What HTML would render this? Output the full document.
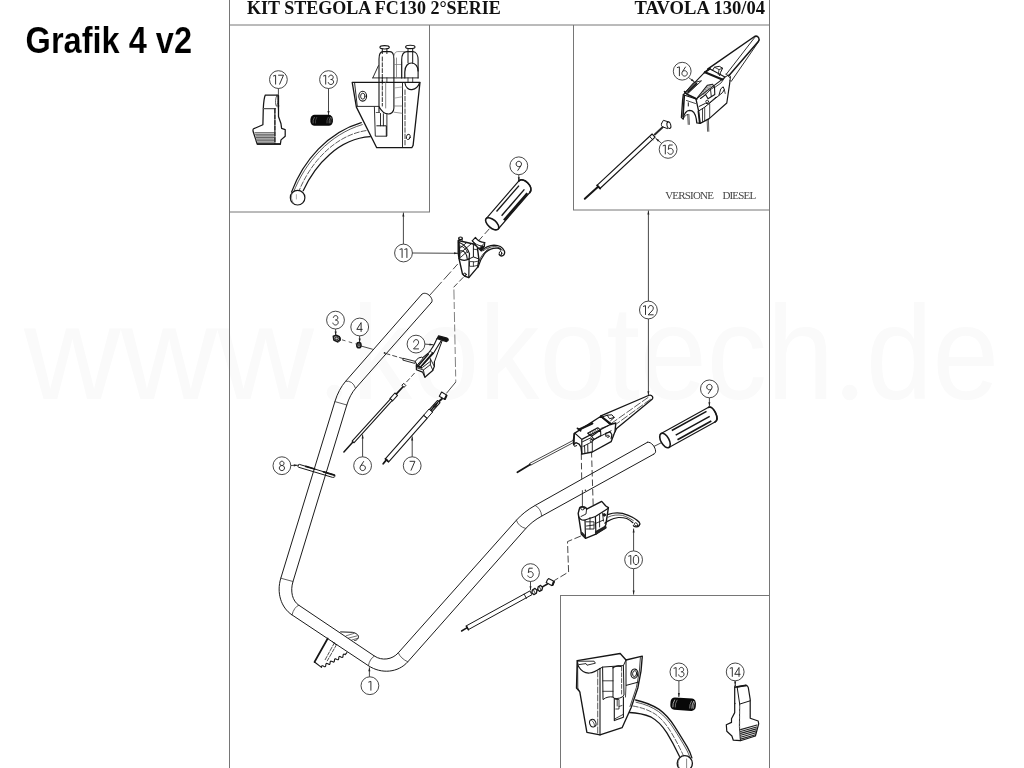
<!DOCTYPE html>
<html><head><meta charset="utf-8"><title>Grafik 4 v2</title>
<style>
html,body{margin:0;padding:0;background:#fff;}
body{width:1024px;height:768px;overflow:hidden;font-family:"Liberation Sans",sans-serif;}
svg{display:block;filter:grayscale(1);}
</style></head><body>
<svg width="1024" height="768" viewBox="0 0 1024 768">
<rect width="1024" height="768" fill="#fff"/>
<g font-family="Liberation Sans, sans-serif" font-size="133" fill="#fafafa"><text x="24" y="399" textLength="290" lengthAdjust="spacingAndGlyphs">www</text><circle cx="334.3" cy="392.5" r="7.7"/><text x="352" y="399" textLength="482" lengthAdjust="spacingAndGlyphs">kokotech</text><circle cx="849.7" cy="392.5" r="7.7"/><text x="866" y="399" textLength="133" lengthAdjust="spacingAndGlyphs">de</text></g>
<g fill="none" stroke="#767676" stroke-width="1">
<path d="M229.5 0V768 M769.5 0V768 M429.5 25V212 M573.5 25V210 M560.5 595.5V768"/>
<path d="M229 25H770 M229 212H430 M573 210H770 M560 595.5H770"/>
</g>
<text x="247" y="14.2" font-family="Liberation Serif, serif" font-weight="bold" font-size="18" fill="#111" textLength="253.7" lengthAdjust="spacingAndGlyphs">KIT STEGOLA FC130 2°SERIE</text>
<text x="634.5" y="14.2" font-family="Liberation Serif, serif" font-weight="bold" font-size="18" fill="#111" textLength="130.5" lengthAdjust="spacingAndGlyphs">TAVOLA 130/04</text>
<text x="25.6" y="52.6" font-family="Liberation Sans, sans-serif" font-weight="bold" font-size="36.4" fill="#000" stroke="#fff" stroke-width="0.12" textLength="166.5" lengthAdjust="spacingAndGlyphs">Grafik 4 v2</text>
<g font-family="Liberation Serif, serif" font-size="11" fill="#444"><text x="665.2" y="199.2" textLength="48.8" lengthAdjust="spacing">VERSIONE</text><text x="722.4" y="199.2" textLength="33.8" lengthAdjust="spacing">DIESEL</text></g>
<g id="balloons">
<circle cx="278.4" cy="79.6" r="8.9" fill="#fff" stroke="#333" stroke-width="0.9"/>
<circle cx="328.5" cy="79.6" r="8.9" fill="#fff" stroke="#333" stroke-width="0.9"/>
<circle cx="682.2" cy="71.2" r="8.9" fill="#fff" stroke="#333" stroke-width="0.9"/>
<circle cx="668.1" cy="149.4" r="8.9" fill="#fff" stroke="#333" stroke-width="0.9"/>
<circle cx="518.8" cy="165.8" r="8.9" fill="#fff" stroke="#333" stroke-width="0.9"/>
<circle cx="403.5" cy="253" r="8.9" fill="#fff" stroke="#333" stroke-width="0.9"/>
<circle cx="335.5" cy="320.1" r="8.9" fill="#fff" stroke="#333" stroke-width="0.9"/>
<circle cx="359.7" cy="327" r="8.9" fill="#fff" stroke="#333" stroke-width="0.9"/>
<circle cx="416" cy="344.1" r="8.9" fill="#fff" stroke="#333" stroke-width="0.9"/>
<circle cx="648.4" cy="310" r="8.9" fill="#fff" stroke="#333" stroke-width="0.9"/>
<circle cx="709.4" cy="388.9" r="8.9" fill="#fff" stroke="#333" stroke-width="0.9"/>
<circle cx="281.9" cy="465.7" r="8.9" fill="#fff" stroke="#333" stroke-width="0.9"/>
<circle cx="362.6" cy="465.7" r="8.9" fill="#fff" stroke="#333" stroke-width="0.9"/>
<circle cx="412.2" cy="465.7" r="8.9" fill="#fff" stroke="#333" stroke-width="0.9"/>
<circle cx="530.5" cy="572.6" r="8.9" fill="#fff" stroke="#333" stroke-width="0.9"/>
<circle cx="633.6" cy="559.8" r="8.9" fill="#fff" stroke="#333" stroke-width="0.9"/>
<circle cx="369.9" cy="685.7" r="8.9" fill="#fff" stroke="#333" stroke-width="0.9"/>
<circle cx="678.9" cy="671.9" r="8.9" fill="#fff" stroke="#333" stroke-width="0.9"/>
<circle cx="735.2" cy="671.9" r="8.9" fill="#fff" stroke="#333" stroke-width="0.9"/>
<g fill="none" stroke="#262626" stroke-width="0.95" stroke-linejoin="round">
<path transform="translate(273.1 75.1)" d="M0 1.0L2.5 0.15V9.4"/><path transform="translate(277.9 75.1)" d="M0.3 0.1H5.6L1.6 9.4"/>
<path transform="translate(323.2 75.1)" d="M0 1.0L2.5 0.15V9.4"/><path transform="translate(328 75.1)" d="M0.7 2.2C0.9 0.9 1.8 0 3 0C4.4 0 5.2 1 5.2 2.2C5.2 3.5 4.4 4.4 3.1 4.4H2.5M3.1 4.4C4.6 4.4 5.6 5.4 5.6 6.8C5.6 8.3 4.4 9.4 2.9 9.4C1.5 9.4 0.5 8.5 0.2 7.1"/>
<path transform="translate(676.9 66.7)" d="M0 1.0L2.5 0.15V9.4"/><path transform="translate(681.6 66.7)" d="M4.1 0L0.9 4.9C0.5 5.5 0.3 6.1 0.3 6.7C0.3 8.2 1.5 9.4 3 9.4C4.5 9.4 5.7 8.2 5.7 6.7C5.7 5.2 4.5 4 3 4C2.2 4 1.4 4.3 0.9 4.9"/>
<path transform="translate(662.8 144.9)" d="M0 1.0L2.5 0.15V9.4"/><path transform="translate(667.5 144.9)" d="M5.2 0.1H1.5L0.8 4.5C1.4 3.9 2.2 3.5 3.1 3.5C4.6 3.5 5.7 4.8 5.7 6.4C5.7 8.1 4.5 9.4 2.9 9.4C1.6 9.4 0.6 8.6 0.2 7.4"/>
<path transform="translate(515.8 161.3)" d="M1.8 9.4L5.1 4.5C5.5 3.9 5.7 3.3 5.7 2.7C5.7 1.2 4.5 0 3 0C1.5 0 0.3 1.2 0.3 2.7C0.3 4.2 1.5 5.4 3 5.4C3.8 5.4 4.6 5.1 5.1 4.5"/>
<path transform="translate(399.6 248.5)" d="M0 1.0L2.5 0.15V9.4"/><path transform="translate(404.4 248.5)" d="M0 1.0L2.5 0.15V9.4"/>
<path transform="translate(332.6 315.6)" d="M0.7 2.2C0.9 0.9 1.8 0 3 0C4.4 0 5.2 1 5.2 2.2C5.2 3.5 4.4 4.4 3.1 4.4H2.5M3.1 4.4C4.6 4.4 5.6 5.4 5.6 6.8C5.6 8.3 4.4 9.4 2.9 9.4C1.5 9.4 0.5 8.5 0.2 7.1"/>
<path transform="translate(356.6 322.5)" d="M4.5 9.4V0.1L0.2 6.9H6"/>
<path transform="translate(413.1 339.6)" d="M0.5 2.8C0.5 1.2 1.6 0 3 0C4.5 0 5.5 1.1 5.5 2.6C5.5 3.7 5 4.6 4.1 5.5L0.4 9.3H5.8"/>
<path transform="translate(643 305.5)" d="M0 1.0L2.5 0.15V9.4"/><path transform="translate(647.8 305.5)" d="M0.5 2.8C0.5 1.2 1.6 0 3 0C4.5 0 5.5 1.1 5.5 2.6C5.5 3.7 5 4.6 4.1 5.5L0.4 9.3H5.8"/>
<path transform="translate(706.4 384.4)" d="M1.8 9.4L5.1 4.5C5.5 3.9 5.7 3.3 5.7 2.7C5.7 1.2 4.5 0 3 0C1.5 0 0.3 1.2 0.3 2.7C0.3 4.2 1.5 5.4 3 5.4C3.8 5.4 4.6 5.1 5.1 4.5"/>
<path transform="translate(278.9 461.2)" d="M3 4.3C1.8 4.3 0.9 3.4 0.9 2.2C0.9 1 1.8 0 3 0C4.2 0 5.1 1 5.1 2.2C5.1 3.4 4.2 4.3 3 4.3C1.5 4.3 0.4 5.4 0.4 6.8C0.4 8.3 1.5 9.4 3 9.4C4.5 9.4 5.6 8.3 5.6 6.8C5.6 5.4 4.5 4.3 3 4.3Z"/>
<path transform="translate(359.7 461.2)" d="M4.1 0L0.9 4.9C0.5 5.5 0.3 6.1 0.3 6.7C0.3 8.2 1.5 9.4 3 9.4C4.5 9.4 5.7 8.2 5.7 6.7C5.7 5.2 4.5 4 3 4C2.2 4 1.4 4.3 0.9 4.9"/>
<path transform="translate(409.3 461.2)" d="M0.3 0.1H5.6L1.6 9.4"/>
<path transform="translate(527.5 568.1)" d="M5.2 0.1H1.5L0.8 4.5C1.4 3.9 2.2 3.5 3.1 3.5C4.6 3.5 5.7 4.8 5.7 6.4C5.7 8.1 4.5 9.4 2.9 9.4C1.6 9.4 0.6 8.6 0.2 7.4"/>
<path transform="translate(628.3 555.3)" d="M0 1.0L2.5 0.15V9.4"/><path transform="translate(633.1 555.3)" d="M2.9 0C1.2 0 0.2 1.9 0.2 4.7C0.2 7.5 1.2 9.4 2.9 9.4C4.6 9.4 5.6 7.5 5.6 4.7C5.6 1.9 4.6 0 2.9 0Z"/>
<path transform="translate(368.4 681.2)" d="M0 1.0L2.5 0.15V9.4"/>
<path transform="translate(673.6 667.4)" d="M0 1.0L2.5 0.15V9.4"/><path transform="translate(678.4 667.4)" d="M0.7 2.2C0.9 0.9 1.8 0 3 0C4.4 0 5.2 1 5.2 2.2C5.2 3.5 4.4 4.4 3.1 4.4H2.5M3.1 4.4C4.6 4.4 5.6 5.4 5.6 6.8C5.6 8.3 4.4 9.4 2.9 9.4C1.5 9.4 0.5 8.5 0.2 7.1"/>
<path transform="translate(729.8 667.4)" d="M0 1.0L2.5 0.15V9.4"/><path transform="translate(734.5 667.4)" d="M4.5 9.4V0.1L0.2 6.9H6"/>
</g></g>
<g id="leaders">
<path d="M278.4 88.5L278.4 109.5" stroke="#333" stroke-width="0.9" fill="none"/>
<path d="M278.4 109.5L277.3 105.5L279.4 105.5Z" fill="#222"/>
<path d="M328.5 88.5L328.5 115" stroke="#333" stroke-width="0.9" fill="none"/>
<path d="M328.5 115L327.4 111L329.6 111Z" fill="#222"/>
<path d="M688.5 77.5L694.6 82" stroke="#333" stroke-width="0.9" fill="none"/>
<path d="M694.6 82L690.8 80.5L692 78.8Z" fill="#222"/>
<path d="M661.6 143.3L655.6 138.3" stroke="#333" stroke-width="0.9" fill="none"/>
<path d="M655.6 138.3L659.3 140.1L658 141.7Z" fill="#222"/>
<path d="M518.8 174.7L518.8 181.2" stroke="#333" stroke-width="0.9" fill="none"/>
<path d="M518.8 181.2L517.8 177.2L519.8 177.2Z" fill="#222"/>
<path d="M403.4 244.1L403.4 212.6" stroke="#333" stroke-width="0.9" fill="none"/>
<path d="M403.4 212.6L404.4 216.6L402.3 216.6Z" fill="#222"/>
<path d="M412.4 253L458 253.3" stroke="#333" stroke-width="0.9" fill="none"/>
<path d="M458 253.3L454 254.3L454 252.2Z" fill="#222"/>
<path d="M335.6 329L335.6 335.4" stroke="#333" stroke-width="0.9" fill="none"/>
<path d="M335.6 335.4L334.6 331.4L336.7 331.4Z" fill="#222"/>
<path d="M359.6 335.9L359.6 342.6" stroke="#333" stroke-width="0.9" fill="none"/>
<path d="M359.6 342.6L358.6 338.6L360.7 338.6Z" fill="#222"/>
<path d="M424.9 344.1L433.5 344.8" stroke="#333" stroke-width="0.9" fill="none"/>
<path d="M433.5 344.8L429.4 345.5L429.6 343.4Z" fill="#222"/>
<path d="M648.4 301.1L648.4 210.6" stroke="#333" stroke-width="0.9" fill="none"/>
<path d="M648.4 210.6L649.4 214.6L647.4 214.6Z" fill="#222"/>
<path d="M648.4 318.9L648.4 395.3" stroke="#333" stroke-width="0.9" fill="none"/>
<path d="M648.4 395.3L647.4 391.3L649.4 391.3Z" fill="#222"/>
<path d="M709.4 397.8L709.4 406.3" stroke="#333" stroke-width="0.9" fill="none"/>
<path d="M709.4 406.3L708.4 402.3L710.4 402.3Z" fill="#222"/>
<path d="M290.8 465.5L297.8 465.2" stroke="#333" stroke-width="0.9" fill="none"/>
<path d="M297.8 465.2L293.8 466.4L293.8 464.3Z" fill="#222"/>
<path d="M362.6 456.8L362.6 434.6" stroke="#333" stroke-width="0.9" fill="none"/>
<path d="M362.6 434.6L363.7 438.6L361.6 438.6Z" fill="#222"/>
<path d="M412.2 456.8L412.2 436.4" stroke="#333" stroke-width="0.9" fill="none"/>
<path d="M412.2 436.4L413.2 440.4L411.1 440.4Z" fill="#222"/>
<path d="M530.5 581.5L530.5 590.3" stroke="#333" stroke-width="0.9" fill="none"/>
<path d="M530.5 590.3L529.5 586.3L531.5 586.3Z" fill="#222"/>
<path d="M633.6 550.9L633.6 528.6" stroke="#333" stroke-width="0.9" fill="none"/>
<path d="M633.6 528.6L634.6 532.6L632.6 532.6Z" fill="#222"/>
<path d="M633.6 568.7L633.6 594.6" stroke="#333" stroke-width="0.9" fill="none"/>
<path d="M633.6 594.6L632.6 590.6L634.6 590.6Z" fill="#222"/>
<path d="M369.4 676.8L369.4 667.3" stroke="#333" stroke-width="0.9" fill="none"/>
<path d="M369.4 667.3L370.4 671.3L368.3 671.3Z" fill="#222"/>
<path d="M678.9 680.8L678.9 697" stroke="#333" stroke-width="0.9" fill="none"/>
<path d="M678.9 697L677.9 693L679.9 693Z" fill="#222"/>
<path d="M735.2 680.8L735.2 685.5" stroke="#333" stroke-width="0.9" fill="none"/>
<path d="M735.2 685.5L734.2 681.5L736.2 681.5Z" fill="#222"/>
</g>
<g id="handlebar" fill="none" stroke="#161616" stroke-width="0.98" stroke-linecap="round" stroke-linejoin="round">
<path d="M421.9 294.2 L345.6 381.3 C341.1 386.5 337.4 393.4 334.9 401.6 L280.8 578.2 C276.4 592.6 280.9 607.5 292 614.9 L368.4 665.7 C381.4 674.3 398.2 672.7 407.8 661.8 L525.8 528.5 C529.9 523.8 535.3 519.6 541.7 516.1 L653.5 454.3"/>
<path d="M431.5 302.4 L355.6 388.3 C351.9 392.5 348.9 398.2 346.8 405 L293 581.5 C290 591.3 292.4 600.9 298.8 605.2 L374.4 656 C381.9 661.1 392.2 659.7 398.3 652.8 L516.4 520.2 C521.4 514.6 527.7 509.6 535.2 505.4 L647.6 442.2"/>
<path d="M421.9 294.2 C423.2 292.5 427.6 293 429.9 296 C431.8 298.3 433 300.8 431.5 302.4"/>
<path d="M647.6 442.2 C651.5 441.5 655.5 447.5 655.6 451.2 C655.6 452.8 654.8 453.8 653.5 454.3"/>
<g stroke-width="0.75" stroke="#2a2a2a">
<path d="M345.6 381.3 Q352.6 380 355.6 388.3"/>
<path d="M334.9 401.6 L346.8 405"/>
<path d="M280.8 578.2 L293 581.5"/>
<path d="M298.8 605.2 Q294 607 292 614.9"/>
<path d="M374.4 656 Q369.5 659 368.4 665.7"/>
<path d="M398.3 652.8 Q400.5 658.5 407.8 661.8"/>
<path d="M516.4 520.2 Q518.3 526.6 525.8 528.5"/>
<path d="M535.2 505.4 Q541.2 508.6 541.7 516.1"/>
</g></g>
<g id="p17" fill="none" stroke="#161616" stroke-width="1.1" stroke-linejoin="round" stroke-linecap="round">
<path d="M265.3 95.1H277.2 M265.3 95.1 C264 98 263.6 103 263.3 108.3 L262.9 124.8 L253.6 128.8 C252.9 129.3 252.9 130.6 253.2 131.8 L257.2 144 H280.4 L281 139.9 L285.2 136.3 V129.6 L281.6 128.4 L281 123.8 L278.5 116.5 V95.5" stroke-width="1.25"/>
<path d="M263.3 108.6H275.6" stroke="#555"/>
<path d="M277.2 95.1 C275.2 97 275 104.5 276.5 106.3 C278 104.5 278.3 97 277.2 95.1Z" stroke-width="0.7"/>
<path d="M274.9 109V143.5" stroke="#1a1a1a" stroke-width="1.5" stroke-dasharray="4.2 1.5"/>
<path d="M257.5 144.1H280.3" stroke-width="1.5"/>
</g>
<g stroke="#333" stroke-width="0.8" fill="none">
<path d="M254.6 132.7H274"/>
<path d="M255.1 134.3H274"/>
<path d="M255.6 135.9H274"/>
<path d="M256 137.5H274"/>
<path d="M256.5 139.1H274"/>
<path d="M257 140.7H274"/>
<path d="M257.4 142.2H274"/>
</g>
<rect x="255.5" y="133.6" width="17.8" height="8" fill="#777" opacity="0.35"/>
<rect x="310.4" y="114.8" width="22.5" height="11" rx="4.2" ry="4.6" fill="#080808"/>
<path d="M314.5 117Q312.5 120.3 313.1 123.4" stroke="#777" stroke-width="0.8" fill="none"/>
<path d="M316.9 117Q314.9 120.3 315.5 123.4" stroke="#777" stroke-width="0.5" fill="none"/>
<path d="M328.4 117Q326.4 120.3 327 123.4" stroke="#777" stroke-width="0.6" fill="none"/>
<path d="M330.6 117Q328.6 120.3 329.2 123.4" stroke="#777" stroke-width="0.9" fill="none"/>
<path d="M332.2 117Q330.2 120.3 330.8 123.4" stroke="#777" stroke-width="0.6" fill="none"/>
<g id="h1" fill="none" stroke="#161616" stroke-width="1.0" stroke-linejoin="round" stroke-linecap="round">
<path d="M352.2 82.3H420 L413.1 145.4 L411.8 147.7 H376.7 L356.4 107.1 Z" stroke-width="1.3"/>
<path d="M354.6 83 L357.3 106.4 H379 " stroke-width="0.9"/>
<path d="M357.3 106.4 L356.4 107.1"/>
<ellipse cx="362.7" cy="96.2" rx="3.9" ry="4.9" stroke-width="1.1"/><ellipse cx="362.8" cy="96.2" rx="2.2" ry="3" stroke-width="0.9"/>
<path d="M379 112 V59 C379 54 381 51.6 383 51.6 H390 C392.5 51.6 393.9 54 393.9 59 V108 C393.9 112 391 114 388.5 114 C385 114 382 112.5 379 106.5" stroke-width="1.1"/>
<path d="M382.3 57V106" stroke-dasharray="4 1.8" stroke-width="0.9"/>
<path d="M385.7 82.3V108" stroke-width="0.8" stroke="#666"/>
<ellipse cx="384.6" cy="47.3" rx="4.7" ry="1.7" stroke-width="1.1"/>
<path d="M382.3 48.8V53.5 M386.9 48.8V53.5" stroke-width="1.0"/>
<path d="M382.3 77.9V82.3 M386.9 77.9V82.3" stroke-width="0.8"/>
<path d="M372.8 77.9 L378.4 65.7 M372.8 77.9 H418.1" stroke-width="0.9"/>
<path d="M393.9 56 C394.5 52.5 396 51.6 398 51.6 H404 M396.5 58 V77.9 M401.7 62V77.9" stroke="#777" stroke-width="0.8"/>
<path d="M393.9 64.5H401.7" stroke="#777" stroke-width="0.7"/>
<path d="M401.7 77.9 V60 C401.7 54.5 404 51.6 407 51.6 H413 C416 51.6 418.1 55 418.1 60 V77.9" stroke-width="1.1"/>
<path d="M404.8 77.9 V72 C404.8 66 408 63 411.5 63 C415.5 63 418.1 66.5 418.1 71" stroke-width="1.2"/>
<ellipse cx="410.3" cy="46.9" rx="4.7" ry="1.7" stroke-width="1.1"/>
<path d="M408 48.4V62.8 M412.7 48.4V63.2" stroke-width="1.0"/>
<path d="M408 77.9V82.3 M412.7 77.9V82.3" stroke-width="0.8"/>
<path d="M404.8 82.5 C405.5 88 409 90 412 89.6 C416 89 418.5 86 419.7 82.5" stroke-width="1.1"/>
<path d="M402.5 82.5V147.5" stroke-width="0.9"/>
<path d="M405 90V146" stroke-dasharray="4.5 1.8" stroke-width="0.8"/>
<ellipse cx="408.3" cy="136.9" rx="1.9" ry="2.7" stroke-width="0.9" transform="rotate(15 408.3 136.9)"/>
<path d="M374.4 107.1 L375.3 136.2 H386.9 V113.8" stroke-width="0.9"/>
<path d="M376.8 125.8 H386.3 V136" stroke-width="1.0"/>
<path d="M380.5 113.5V125.8 M383.4 113.8V125.8" stroke-width="0.9"/>
<path d="M376.2 112.5H379.5" stroke-width="0.7"/>
<path d="M393.9 112.2 L402.2 113.3 M393.9 106 H402.2" stroke="#666" stroke-width="0.7"/>
<path d="M393.9 88 L402.2 87 M393.9 98.2 L402.2 96.8" stroke="#888" stroke-width="0.7"/>
<path d="M361.3 122.6 C328 132.3 303.3 160.5 291.5 192.1" stroke-width="1.25"/>
<path d="M362.3 124.6 C329.6 134.2 305 162 293.2 193" stroke-width="0.7"/>
<path d="M370.2 136.7 C339.2 138.6 315.4 164.1 303.2 190.7" stroke-width="1.25"/>
<path d="M366 130.6 C334.5 135.5 310 163 298.6 192" stroke-dasharray="5 2" stroke-width="0.7"/>
<circle cx="297.6" cy="197.7" r="7.3" fill="#fff" stroke-width="1.2"/>
<path d="M292 193.5 C291 196.5 291.3 200.5 293.5 203.2" stroke-width="0.7" stroke="#666"/>
<path d="M296.4 194.6V199" stroke-width="0.6" stroke="#777"/>
</g>
<g id="p16" fill="none" stroke="#161616" stroke-width="1.0" stroke-linejoin="round" stroke-linecap="round">
<path d="M707.6 69.2 L753.8 37 C755.5 35.8 757.6 36.2 758.6 37.6 C759.5 38.9 759.2 40.2 758.3 41.6 L729 75.6" stroke-width="1.5"/>
<path d="M754.6 37.6 L726 74.6" stroke-width="0.9"/>
<path d="M758.2 42.2 L731.2 81.4" stroke-width="0.9"/>
<path d="M724.9 77.1 L728.3 75.2 C729.4 74.9 730.2 75.6 730.4 77 L730 80.5" stroke-width="1.0"/>
<path d="M726.3 73.8 L729.6 77.6" stroke-width="0.8"/>
<path d="M683.3 94.7 L685.6 92.2 L705.3 71.7 L709.7 68.8 L724.9 77.1 L721.9 79.6 L696 99.1 Z" stroke-width="1.1"/>
<path d="M705 72.3 L722.3 79.4" stroke-width="2.2"/>
<path d="M704.6 72.6 L709.9 68.8" stroke-width="1.8"/>
<path d="M712.3 70.6 L714.5 67.2 L719.3 66.3 L722.6 68.2 L720.6 72.3 L719.6 75.6" stroke-width="1.0"/>
<path d="M714.5 67.2 L719 69.6 L722.6 68.2 M719 69.6 L718.3 74.5" stroke-width="0.8"/>
<path d="M694 82.5 L701.5 80.8 L687 94.3 L685 93.2 Z" stroke-width="0.9"/>
<path d="M696.5 83.5 L688 92" stroke-width="1.8"/>
<path d="M684.5 91.5 L687.5 94.5 L697 99" stroke-width="1.6"/>
<path d="M697.5 97.5 L707.5 85.2 L712.5 84.3 L714.5 87 L714.8 94.5 L708 98.8 L705.6 94.6 L700.5 98.5" stroke-width="1.1"/>
<path d="M705.6 94.6 L710.5 89.5 L714.5 87 M710.5 89.5 L711.3 96.5" stroke-width="0.9"/>
<path d="M700.2 95.3 L705.3 93.6" stroke-width="0.6" stroke="#444"/>
<path d="M701.7 93.5 L706.8 91.8" stroke-width="0.6" stroke="#444"/>
<path d="M703.2 91.6 L708.3 89.9" stroke-width="0.6" stroke="#444"/>
<path d="M704.7 89.8 L709.8 88" stroke-width="0.6" stroke="#444"/>
<path d="M706.2 87.9 L711.3 86.2" stroke-width="0.6" stroke="#444"/>
<path d="M707.7 86 L712.8 84.3" stroke-width="0.6" stroke="#444"/>
<path d="M683.3 94.7 L682.6 100 L681.4 117.6 L683.2 119 C684 113.5 686.3 110.5 689.6 110.3 C693 110.3 695.3 113.3 696.3 119 L696.8 122.8 L700.2 123.4 L698.6 111 L696 99.1" stroke-width="1.3"/>
<path d="M684.3 95.6 L683 116.5" stroke-width="1.6"/>
<path d="M686.5 100.5 L695.5 103.5" stroke-width="0.8"/>
<path d="M688.3 102.8 V106" stroke-width="1.0"/>
<path d="M683.2 119 C684.5 116 686 114.6 688 114.4" stroke-width="0.8"/>
<path d="M730 80.5 L729.6 84 L726.8 103 L709.2 118.6 L700.2 123.4" stroke-width="1.2"/>
<path d="M698.6 111 L704.5 107.3 L722.6 92.5 L724.3 89.5 L723.2 86.8 L720.8 88.8 L719 95" stroke-width="1.0"/>
<path d="M724.3 89.5 L725.2 93.5" stroke-width="0.8"/>
<path d="M699.2 106.4 L705.5 103.3 L708.5 103.8 L716 97" stroke-width="1.0"/>
<circle cx="707.2" cy="101.6" r="1.4" stroke-width="0.9"/>
<path d="M702.5 108.6 V121.5 M704.7 107.5 V120.5 M709.7 104 V117.6" stroke-width="0.8"/>
<path d="M698.3 111.5 L699.6 123" stroke-width="1.5"/>
<path d="M714.8 87.4 L721 83 L724.5 78" stroke-width="0.8"/>
<path d="M687.7 114.8 L688.2 124.4 M688.9 114.5 L689.4 124.4" stroke-width="0.7"/>
<path d="M707.1 119.8 L707.6 131.3 M708.4 119.2 L708.8 131.3" stroke-width="0.7"/>
</g>
<g id="p15" fill="none" stroke="#161616" stroke-linecap="round">
<path d="M584.8 198.8 L597.5 187.3" stroke-width="2.0"/>
<path d="M600 188.5L655.1 137.2L652.1 134L597 185.3Z" fill="#fff" stroke="#161616" stroke-width="1.15" stroke-linejoin="round"/>
<path d="M649.4 136.3 L652.9 139.9" stroke-width="0.9"/>
<path d="M597.2 185.4 L600.2 188.6" stroke-width="1.8"/>
<path d="M654.8 134.4 L662.6 127.2" stroke-width="2.0" stroke="#2a2a2a"/>
<path d="M661.6 123.4 L663.4 120.3 L669.5 122.2 M661.6 123.4 C661 125 661.5 126.3 662.5 126.8 L667.5 128.6" stroke-width="1.0" fill="none"/>
<ellipse cx="668.9" cy="125.3" rx="1.9" ry="3.3" stroke-width="1.0" fill="#fff" transform="rotate(-14 668.9 125.3)"/>
</g>
<g id="axes" fill="none" stroke="#262626" stroke-width="0.85">
<path d="M429.7 295.3 L476.6 243" stroke-dasharray="18 3 11 3 7 3 9 3"/>
<path d="M478 241.4 L492.4 225.4" stroke-dasharray="7 3"/>
<path d="M463.4 277.2 L453.6 287.3" stroke-dasharray="6 2.5"/>
<path d="M453.9 289.5 L455.8 382" stroke-dasharray="10 2.5 7 3" stroke="#555" stroke-width="0.75"/>
<path d="M455.8 382 L446.4 393.4"/>
<path d="M342 339.8 L356.4 344.1" stroke-dasharray="3.6 3.4" stroke-width="0.75"/>
<path d="M361 346 L372.8 349.3"/>
<path d="M385.4 353.4 L405.6 359.3" stroke-dasharray="5 2.2"/>
<circle cx="384.6" cy="352.9" r="0.9" fill="#222" stroke="none"/>
<path d="M414.6 373 L404.9 383.8" stroke-dasharray="5 2.2"/>
<path d="M581.3 453.4 L581.7 479.4" stroke-dasharray="6.5 3"/>
<path d="M591.5 451 L593.5 516" stroke-dasharray="6.5 3"/>
<path d="M580.9 536 L567.5 541.6 L568.6 572 L554.2 580.6" stroke-dasharray="7 2.5"/>
<path d="M653.8 446.5 L666 440.4"/>
</g>
<g id="grips" stroke-linecap="round" stroke-linejoin="round">
<path d="M486.2 218.6L518.7 181.1C523.4 176.4 534.6 187 529.7 192.6L498.2 229" fill="#fff" stroke="#161616" stroke-width="1.15"/>
<path d="M518.7 181.1C523.4 176.4 534.6 187 529.7 192.6" fill="none" stroke="#161616" stroke-width="1.7"/>
<path d="M496.5 211.5L519 185.6" fill="none" stroke="#161616" stroke-width="1.4" stroke-linecap="butt"/>
<path d="M501.6 215.7L524.4 189.4" fill="none" stroke="#161616" stroke-width="1.4" stroke-linecap="butt"/>
<path d="M504 220.3L527.4 193.3" fill="none" stroke="#161616" stroke-width="2.5" stroke-linecap="butt"/>
<ellipse cx="492.2" cy="223.8" rx="4.1" ry="8" transform="rotate(-49.1 492.2 223.8)" fill="#fff" stroke="#161616" stroke-width="1.6"/>
<path d="M661.1 433.5L708.6 407.3C713.3 405.3 720.3 419.1 715 422L668.9 447.5" fill="#fff" stroke="#161616" stroke-width="1.15"/>
<path d="M708.6 407.3C713.3 405.3 720.3 419.1 715 422" fill="none" stroke="#161616" stroke-width="1.7"/>
<path d="M671.8 430.5L706.5 411.3" fill="none" stroke="#161616" stroke-width="1.5" stroke-linecap="butt"/>
<path d="M675.7 435.1L709.7 416.4" fill="none" stroke="#161616" stroke-width="1.5" stroke-linecap="butt"/>
<path d="M677.5 439.8L711.3 421.1" fill="none" stroke="#161616" stroke-width="1.7" stroke-linecap="butt"/>
<ellipse cx="665" cy="440.5" rx="4.1" ry="8" transform="rotate(-28.9 665 440.5)" fill="#fff" stroke="#161616" stroke-width="1.6"/>
</g>
<g id="p34" fill="none" stroke="#161616" stroke-linejoin="round">
<path d="M333.3 336.3 L336.3 335.3 L339.4 336.8 L339.8 339.8 L337 341.6 L333.8 340 Z" stroke-width="1.5" fill="#bbb"/>
<ellipse cx="336.6" cy="338.4" rx="1.6" ry="1.4" stroke-width="0.9"/>
<path d="M339.4 336.8 L340.6 338 L340.4 340.6 L337.6 342.4 L337 341.6" stroke-width="0.9"/>
<ellipse cx="358.9" cy="345.2" rx="2.1" ry="2.6" stroke-width="1.6" fill="#ccc"/>
<ellipse cx="359" cy="345.2" rx="0.7" ry="1" stroke-width="0.8"/>
</g>
<g id="p2" fill="none" stroke="#161616" stroke-linejoin="round" stroke-linecap="round">
<path d="M438.6 335.8 L447.2 338.2 C448.2 338.6 448.4 339.8 448 340.6 L446.6 341.6 L437.2 338.6 Z" fill="#111" stroke-width="1.2"/>
<path d="M437 338.5 C435.5 342 434 345 432.7 347.1 C431.5 349.2 430.2 351 428.8 352.6 L419.4 360.4 L416.3 364.3" stroke-width="1.1"/>
<path d="M441.3 340.5 L433.5 353.3 L422.6 365.1" stroke-width="1.1"/>
<path d="M441.9 341.4 L434.4 361.9" stroke-width="1.0"/>
<path d="M428.4 354.1 L418.3 365.8 M432.7 353 L421 366.6" stroke-width="1.5"/>
<path d="M430.6 351.6 L433.6 353.4" stroke-width="0.8"/>
<path d="M415.5 361 L418.4 358 L421.6 357.2 L423 358.4 L417.2 365 Z" stroke-width="1.0" fill="#fff"/>
<path d="M416.3 365 L416.4 369.8 L422.6 372.1 L424.9 377.2 L432.7 370.5 L434.3 366.6 L434.4 361.9" stroke-width="1.2"/>
<path d="M416.4 367.6 L423.4 370 L424.9 377.2 M423.4 370 L430.4 364.6 L430.4 358.8 M430.4 364.6 L432.8 370.2 M430.4 358.8 L434.3 366.4 M423 367 L429.6 362" stroke-width="0.9"/>
<path d="M416.8 366 L421.6 367.6" stroke-width="2.0"/>
<path d="M403.6 358.4 L415.4 361.4 L414.8 363.4 L403.2 360.2 Z" stroke-width="0.9" fill="#fff"/>
</g>
<g id="p6" fill="none" stroke="#161616" stroke-linecap="round">
<path d="M404 383.6 L405.8 385.5 L404 387.4 L402.2 385.5 Z" stroke-width="1.0" fill="#fff"/>
<path d="M402.8 387 L396 394.4" stroke-width="1.7"/>
<path d="M394.9 393L389.9 398.6L392.5 401L397.5 395.4Z" fill="#fff" stroke="#161616" stroke-width="1.05" stroke-linejoin="round"/>
<path d="M390.5 398.8L352.1 441.2L353.9 442.8L392.3 400.4Z" fill="#fff" stroke="#161616" stroke-width="1.05" stroke-linejoin="round"/>
<path d="M352.9 442 L343.9 451.9" stroke-width="1.5"/>
</g>
<g id="p7" fill="none" stroke="#161616" stroke-linecap="round" stroke-linejoin="round">
<path d="M441.6 392 L446.7 395.1 L444.8 399.4 L439.3 396.3 Z" stroke-width="1.1" fill="#fff"/>
<path d="M446.5 395.6 L444.9 399" stroke-width="2.0"/>
<path d="M442 398.7 L438.6 401.8" stroke-width="1.9"/>
<path d="M437.4 400.5L429.3 409.7L431.9 411.9L440 402.7Z" fill="#fff" stroke="#161616" stroke-width="1.1" stroke-linejoin="round"/>
<path d="M437.6 402.6 L431 410.2" stroke-width="1.6"/>
<ellipse cx="435" cy="405.6" rx="1.2" ry="2" transform="rotate(41 435 405.6)" stroke-width="0.8"/>
<path d="M428.8 409.3L423.6 415.3L427.2 418.3L432.4 412.3Z" fill="#fff" stroke="#161616" stroke-width="1.0" stroke-linejoin="round"/>
<path d="M423.7 415.3L385.3 458.9L388.7 461.9L427.1 418.3Z" fill="#fff" stroke="#161616" stroke-width="1.05" stroke-linejoin="round"/>
<path d="M386.6 459.6 L383.2 463.8" stroke-width="1.8"/>
<path d="M385.4 458.8 L388.4 461.6" stroke-width="1.6"/>
</g>
<g id="p8" fill="none" stroke="#161616" stroke-linecap="round" stroke-linejoin="round" transform="translate(0 1)">
<path d="M298.3 464.2 L299.4 463.4 L334.4 474 C335.2 474.6 335 475.8 334.2 476.2 L332.6 476.4 L298.4 466.2 C297.8 465.6 297.8 464.8 298.3 464.2 Z" stroke-width="1.0"/>
<path d="M305.8 465.4 L314.6 468 M323.6 470.9 L334.4 474.1" stroke-width="1.8"/>
</g>
<g id="p5" fill="none" stroke="#161616" stroke-linecap="round" stroke-linejoin="round">
<path d="M547.2 580.2 L548.6 578.6 L554.4 581.4 L553.2 584.6 L551.6 585.6 L546.2 582.6 Z" stroke-width="1.1" fill="#fff"/>
<path d="M553.6 582 L552.6 585" stroke-width="2.0"/>
<path d="M547.4 584 L542.4 586.9" stroke-width="1.6"/>
<path d="M538.2 586.8 L540.6 585.4 L542.6 587.6 L541.8 590.2 L539.4 591.4 L537.6 589.4 Z" stroke-width="1.3" fill="#fff"/>
<path d="M537.6 589.6 L536.4 590.4" stroke-width="1.6"/>
<path d="M532.4 590 L535 588.4 L537 590.4 L536.4 593.2 L533.8 594.6 L531.8 592.6 Z" stroke-width="1.3" fill="#fff"/>
<path d="M533.4 589.8 L535.4 593.6 M539.2 586.4 L541 590" stroke-width="0.8"/>
<path d="M529.6 591.1L466.4 625.8L468.4 629.6L531.6 594.9Z" fill="#fff" stroke="#161616" stroke-width="1.0" stroke-linejoin="round"/>
<path d="M524.2 594.2 L526.4 598.4" stroke-width="0.9"/>
<path d="M467.2 627.7 L461.6 631" stroke-width="1.5"/>
<path d="M466.3 626.1 L468.5 629.8" stroke-width="1.5"/>
</g>
<g id="brk" fill="none" stroke="#161616" stroke-linecap="round" stroke-linejoin="round">
<path d="M340.6 631.9 L352.3 632.3 C356.4 633 359.2 635.4 358.4 637.6 C357.8 639.4 356 640.6 354.7 640.5" stroke-width="1.0" fill="#fff"/>
<path d="M346.1 635.8 L353.9 633.4 M348.4 638.1 L357.4 635.8 M351.6 640.1 L358.2 638.1" stroke-width="0.7" stroke="#333"/>
<path d="M327.7 638.5 L314.5 662" stroke-width="1.7"/>
<path d="M314.5 662 L321.5 667.4 L321.5 667.4 L321.6 666.6 L321.8 666.0 L322.1 665.8 L322.7 665.8 L323.3 666.1 L324.0 666.4 L324.7 666.7 L325.2 666.7 L325.5 666.4 L325.7 665.8 L325.8 665.0 L325.9 664.2 L326.1 663.7 L326.5 663.4 L327.0 663.5 L327.7 663.8 L328.4 664.1 L329.1 664.4 L329.6 664.4 L329.9 664.0 L330.0 663.4 L330.1 662.6 L330.2 661.9 L330.5 661.3 L330.8 661.1 L331.4 661.2 L332.1 661.5 L332.8 661.8 L333.4 662.1 L333.9 662.0 L334.2 661.6 L334.4 661.0 L334.4 660.2 L334.6 659.5 L334.8 659.0 L335.2 658.8 L335.8 658.9 L336.5 659.2 L337.2 659.5 L337.8 659.7 L338.2 659.7 L338.5 659.3 L338.7 658.6 L338.8 657.8 L338.9 657.1 L339.1 656.6 L339.6 656.4 L340.1 656.6 L340.8 656.9 L341.5 657.2 L342.1 657.4 L342.6 657.3 L342.9 656.9 L343.0 656.2 L343.1 655.4 L343.2 654.7 L343.5 654.2 L343.9 654.1 L344.5 654.3 L345.2 654.6 L346.9 652.6" stroke-width="1.1"/>
<path d="M334.4 642.8 L325 660 M336.7 644.4 L327.3 660.8" stroke-width="0.75" stroke-dasharray="3.6 1.6"/>
<path d="M332.4 641.6 L335.6 644.6" stroke-width="0.8"/>
</g>
<g id="p11" fill="none" stroke="#161616" stroke-linejoin="round" stroke-linecap="round">
<path d="M481.5 250.5 C485 247.5 489.5 245.4 494 245.2 C498.5 245.2 502.6 247.4 504.4 251 C505 253 504.4 254.8 502.8 255.7 C501.4 256.3 500 255.7 499.2 254.6" stroke-width="1.3"/>
<path d="M483 250.8 C486.5 248.2 490.5 246.7 494.5 246.6 C498 246.7 500.8 248 502.4 250.2" stroke-width="0.8"/>
<path d="M478.1 267.1 C479.5 262 482 256.5 485.9 252.2 C489 249.5 493.5 247.9 497.4 248.2 C499.2 248.5 500.4 249.2 500.8 250.2" stroke-width="1.2"/>
<path d="M479 261 C481 256 484.5 251.5 489 248.6" stroke-width="0.8"/>
<ellipse cx="500.5" cy="253.3" rx="1.3" ry="1.8" stroke-width="1.0"/>
<path d="M458.2 240.5 L473.4 244 L477.3 246.8 L478.9 259.3 L477.7 267.1 L468.8 277.6 L464.5 276 L462.5 274.1 L459 258.5 L458.2 253 Z" stroke-width="1.4" fill="#fff"/>
<ellipse cx="460.5" cy="238.3" rx="1.9" ry="1.3" stroke-width="1.2" fill="#fff"/>
<path d="M459 240.6 V238.6 M462.2 241.2 V238.8" stroke-width="0.8"/>
<path d="M459 258.5 C462 260.6 466 260.6 469.1 258.9 L468.8 277.6" stroke-width="1.2"/>
<path d="M459.4 242.5 C464.5 244.5 468.5 249.5 469.5 253.8 L469.1 258.9" stroke-width="1.2"/>
<path d="M458.6 251.4 C460.5 250.4 462.5 250.6 464 251.6 C465.8 252.8 466.8 254.6 467.2 258.6" stroke-width="1.1"/>
<path d="M460.4 246 C463.5 246.4 466.4 249.4 467.6 252.6" stroke-width="0.9"/>
<path d="M459.2 248.8 L466.6 242.6 M460.2 253.2 L471 244 M460.6 257.4 L467 251.6" stroke-width="0.9"/>
<path d="M458.8 242 L459.6 257" stroke-width="1.8"/>
<path d="M473.4 244 V256.9 L478.4 258.8 M469.1 258.9 L473.4 256.9" stroke-width="1.0"/>
<path d="M473.4 249.1 L477.5 249.8" stroke-width="0.8"/>
<path d="M469.9 261.6 H473.4 V266.3 H469.9 Z M473.4 262 L478 261.2 M473.4 266.3 L477.6 265.4" stroke-width="0.8"/>
<circle cx="464.8" cy="274.5" r="1.4" stroke-width="1.0"/>
<path d="M472.3 240.9 L475.4 237.4 C477.5 240.6 481 242.4 484.8 242.5 L484.4 246.2 L481.3 251 L477.4 247 Z" stroke-width="1.1" fill="#fff"/>
<path d="M472.3 240.9 C474.5 243.6 478 245.6 481.8 246 L484.8 242.5" stroke-width="0.9"/>
<path d="M481.8 246 L484.4 246.2 L481.4 250.8 L479.4 248.6 Z" fill="#111" stroke-width="0.9"/>
</g>
<g id="p12" fill="none" stroke="#161616" stroke-linejoin="round" stroke-linecap="round">
<path d="M517.4 472.2 L530.6 464.2" stroke-width="1.8"/>
<path d="M531 465L578.1 440.1L577.1 438.3L530 463.2Z" fill="#fff" stroke="#161616" stroke-width="0.8" stroke-linejoin="round"/>
<path d="M600.9 415.9 L648.4 395.5 C650 394.9 651.6 395.2 652.5 396.6 C653 397.6 652.8 398.5 652.4 398.9 L616.6 428.4 L615 431.6" stroke-width="1.3" fill="#fff"/>
<path d="M648 397.5 L611.9 423 M650.4 399.4 L616.6 423.8" stroke-width="0.7" stroke-dasharray="7 2.5"/>
<path d="M574.8 433.1 L600.9 416.3 L610.3 424.5 L615.8 423.0 L615.0 431.6 L611.1 441.7 L592.3 452.0 L581.8 454.1 L581.0 447.2 L579.1 444.1 L575.9 442.7 L573.6 444.5 L573.4 439.4 Z" stroke-width="1.35" fill="#fff"/>
<path d="M574.8 433.1 L581.8 439.4 L610.3 424.5 M581.8 439.4 L581.8 453.8" stroke-width="1.2"/>
<path d="M600.9 416.3 L611.1 424.1" stroke-width="2.0"/>
<path d="M579.1 429.4 L592.3 423.4" stroke-width="2.2"/>
<path d="M577.5 428.4 L580.6 430.8" stroke-width="1.8"/>
<path d="M602.5 416.9 L607.2 415.2 L611.9 414.8 L614.2 417.5 L610.7 420.6 M607.2 415.2 L609.5 418.7 L614.2 417.5" stroke-width="1.0"/>
<path d="M587.7 433.3 L597.8 427.7 L600.5 430.0 L600.9 435.5 L593.9 439.4 L591.6 436.2 L587.7 433.3 M591.6 436.2 L600.5 430.0" stroke-width="1.1"/>
<path d="M588.4 432.8 L589.1 434.5" stroke-width="0.6"/>
<path d="M590.2 431.9 L590.8 433.6" stroke-width="0.6"/>
<path d="M591.9 430.9 L592.5 432.7" stroke-width="0.6"/>
<path d="M593.6 430.0 L594.2 431.7" stroke-width="0.6"/>
<path d="M595.3 429.1 L595.9 430.8" stroke-width="0.6"/>
<path d="M597.0 428.1 L597.7 429.8" stroke-width="0.6"/>
<path d="M605.6 433.3 L610.3 432.0 L611.9 434.7 L611.1 438.6 M605.6 433.3 L606.0 436.2" stroke-width="1.2"/>
<circle cx="608" cy="436.3" r="1.2" stroke-width="0.8"/>
<circle cx="591.6" cy="440.6" r="1.4" stroke-width="0.9"/>
<path d="M582.6 441.7 L590.8 437.8 L592.0 440.5 L611.1 430.8" stroke-width="1.0"/>
<path d="M583.0 446.4 L592.3 441.7 L592.3 451.9 M584.5 445.6 L584.9 453.0 M587.7 444.5 L587.9 452.5" stroke-width="0.9"/>
<path d="M574.2 433.5 L573.8 444.1" stroke-width="1.7"/>
<path d="M573.6 444.5 L574.5 446.4 L576.7 445.6" stroke-width="1.0"/>
<path d="M600.9 428.4 L608.8 425.5" stroke-width="0.8"/>
</g>
<g id="p10" fill="none" stroke="#161616" stroke-linejoin="round" stroke-linecap="round">
<path d="M582.4 490.6 V507.4" stroke-width="0.8"/>
<circle cx="585.4" cy="490.3" r="0.8" fill="#222" stroke="none"/>
<path d="M578.2 513.3 L579.3 509 C579.6 507.4 581 506.6 582.6 506.8 C584.5 507 586.4 508 586.6 509.2 L601.7 501.4 L605.8 506 L608.4 507.6 L605.8 524.8 L603.8 529 L595.9 534.2 L585.5 538.3 L581.4 534.2 Z" stroke-width="1.4" fill="#fff"/>
<ellipse cx="582.6" cy="508.6" rx="1.7" ry="1.3" stroke-width="0.9"/>
<path d="M578.6 516.5 C580 519.5 582.5 520.6 585 520 L595.4 516.5 L608 508.5" stroke-width="1.2"/>
<path d="M586.6 509.2 L586 514 L581 516.5" stroke-width="0.9"/>
<path d="M585 520 L585.5 538.3" stroke-width="1.2"/>
<path d="M595.4 516.5 L595.9 534.2" stroke-width="1.2"/>
<path d="M586 521.8 H594 V529 H586.5 M590 517.5 V529 M586.5 526 L594 525" stroke-width="0.9"/>
<path d="M599.6 514.6 V527 M595.6 523.4 L603.6 520 M602.6 513 L603.4 521" stroke-width="0.9"/>
<circle cx="604.3" cy="514.9" r="1.3" fill="#222" stroke-width="0.8"/>
<path d="M596.4 532.4 L605.2 527.4" stroke-width="3" stroke="#222"/>
<path d="M581.8 533 L585 536.4" stroke-width="2.2" stroke="#222"/>
<path d="M608.4 514.4 C613 512.6 618 512.6 622.5 513.3 C627 514.5 630.5 516 632.9 517.5 C635.5 519 637.8 520.6 639.2 522.2 C640.2 523.4 640 524.6 639.2 525.5 C638.4 526.6 637.2 527 636 526.9 C634.5 526.7 633.6 526.2 633.4 525.6" stroke-width="1.3"/>
<path d="M604.8 523.2 C606.5 521.6 608.3 520.6 610 520.1 C612.5 518.6 615.5 517.8 618.3 517.5 C621 517.4 624 517.7 626.7 518.5 C629 519.6 631.5 521.4 632.9 522.7" stroke-width="1.2"/>
<path d="M608 517.2 C612.5 514.8 618 514.6 622.5 515.4 C626 516.4 630 518.4 633.4 520.6" stroke-width="0.7"/>
<ellipse cx="636" cy="524.4" rx="1.8" ry="1.4" stroke-width="0.9" transform="rotate(35 636 524.4)"/>
</g>
<g id="h2" fill="none" stroke="#161616" stroke-linejoin="round" stroke-linecap="round">
<path d="M635.6 700 C645 702 653 705.5 659.1 709.4 C665.5 714 670.5 720 674.7 726.6 C680 735 684 741.5 687.2 746.9 C689.5 751 691 754.5 691.9 757.8" stroke-width="1.3"/>
<path d="M636 702.2 C645 704 652.5 707.4 658.3 711.4 C664.5 716 669.3 721.6 673.4 728 C678.5 736 682.5 742.5 685.6 748 C687.8 752 689.4 755.4 690.3 758.6" stroke-width="0.7"/>
<path d="M629.4 712.5 C638 712.8 645 714.5 651.3 717.2 C657.5 720.5 662.5 726 666.9 732.8 C672 741 676 749 679.4 756.3" stroke-width="1.3"/>
<path d="M633 706 C642 707.5 649.5 710.5 655.3 714.2 C661.5 718.5 666 724.3 670.3 731 C675.5 739.5 680 748 683.4 755.6" stroke-width="0.7" stroke-dasharray="5 2"/>
<circle cx="684.8" cy="763.3" r="7.6" stroke-width="1.3" fill="#fff"/>
<path d="M686.6 759 V768" stroke-width="0.7" stroke="#555"/>
<path d="M679 759.5 C678 762 678 765 679 768" stroke-width="0.7" stroke="#666"/>
<path d="M577.2 660.6 L620.2 653.5 L626 660 L642.3 656.1 L641 671.1 L637.8 688 L631.2 707.5 L622.1 727.7 L600 734.9 L586.9 732.3 L579.8 691.9 L576.5 688 Z" stroke-width="1.35" fill="#fff"/>
<path d="M577.2 660.6 L578.6 666.6 M578.2 661.2 L594.1 661.2 L595.4 663.2 L587 665.2 L586 663.6 L579 664.6" stroke-width="0.9"/>
<path d="M577.6 663 L577.8 688 L579.8 691.9" stroke-width="0.9"/>
<path d="M578.5 666.5 C581 670.5 585.5 673.3 589.5 673 C594 672.6 597 670.6 600 668.5" stroke-width="1.2"/>
<path d="M600 668.5 V734.9" stroke-width="1.1"/>
<path d="M597.7 671 V733.5" stroke-width="0.7" stroke-dasharray="6 2"/>
<path d="M600 668.5 L602.6 667.1 L623.4 665.6 L626 660" stroke-width="1.0"/>
<path d="M602.6 667.1 L603 699.6 C606 697 610 696.4 613 697.1 L613 667.6" stroke-width="1.0"/>
<path d="M602.8 680.8 H613 M602.8 691.3 H613" stroke-width="0.8"/>
<path d="M623.4 665.6 L624 695.2 C622 698 618 699 614.3 698.4 M613 697.1 L614.3 698.4" stroke-width="1.0"/>
<path d="M621.6 667 V694" stroke-width="0.7" stroke-dasharray="4 1.8"/>
<path d="M614.3 698.4 V720.6 L623.4 717.3 V697" stroke-width="1.1"/>
<path d="M615.6 699.5 H619 V709 H615.8 M617.2 699.5 V706 M619 706.5 L622 705.5" stroke-width="0.8"/>
<path d="M614.6 719 L622.8 714.6" stroke-width="0.8"/>
<path d="M613 667.8 C615 666 619 665.6 621 666.4" stroke-width="1.3"/>
<path d="M626 660 V685.4 L638.4 682.1" stroke-width="1.0"/>
<path d="M640.4 657.5 L639.4 671 L636.4 687.5 L630 706.5" stroke-width="0.8"/>
<path d="M626 685.4 L625.5 697" stroke-width="0.8"/>
<ellipse cx="634.4" cy="673.6" rx="3.4" ry="4.6" stroke-width="1.2" transform="rotate(8 634.4 673.6)"/>
<ellipse cx="634.6" cy="673.6" rx="2" ry="3" stroke-width="0.9" transform="rotate(8 634.6 673.6)"/>
<ellipse cx="592.8" cy="723.2" rx="3.1" ry="3.9" stroke-width="1.0" transform="rotate(-20 592.8 723.2)"/>
<path d="M591.6 720.4 C593.6 721.6 594.8 724 594.4 726.6" stroke-width="0.7"/>
</g>
<g transform="rotate(4 683 704.2)">
<rect x="670.4" y="698" width="25.5" height="12.4" rx="4.2" ry="4.6" fill="#080808"/>
<path d="M674.5 700.2Q672.5 704.2 673.1 708" stroke="#c8c8c8" stroke-width="0.8" fill="none"/>
<path d="M676.9 700.2Q674.9 704.2 675.5 708" stroke="#c8c8c8" stroke-width="0.5" fill="none"/>
<path d="M691.4 700.2Q689.4 704.2 690 708" stroke="#c8c8c8" stroke-width="0.6" fill="none"/>
<path d="M693.6 700.2Q691.6 704.2 692.2 708" stroke="#c8c8c8" stroke-width="0.9" fill="none"/>
<path d="M695.2 700.2Q693.2 704.2 693.8 708" stroke="#c8c8c8" stroke-width="0.6" fill="none"/>
</g>
<g id="p14" fill="none" stroke="#161616" stroke-linejoin="round" stroke-linecap="round">
<path d="M737.1 686.8 L746 685.4 C747.4 685.6 748 686.6 748.3 687.7 L750.2 699.4 V718.2 L758.2 721 L758.7 723.8 L755.4 736 L740.4 740.7 L733.3 740.2 L731.9 736 L726.8 731.3 L726.3 724.8 L731.5 722.4 V718.7 L734.7 712.6 V687.3 Z" stroke-width="1.2"/>
<path d="M737.1 686.8 L746 685.4" stroke-width="1.8"/>
<path d="M737.1 686.8 L739.7 704.1 L739.4 726.6 L740.4 740.7" stroke-width="1.0"/>
<path d="M739.7 704.1 L750.2 700.8" stroke-width="1.0"/>
<path d="M734.8 687 L735.2 685.6" stroke-width="1.4"/>
<circle cx="734.9" cy="703.6" r="0.75" fill="#222" stroke="none"/>
<path d="M739.6 706 L740 738" stroke-width="0.6" stroke="#999" stroke-dasharray="3 2"/>
<path d="M740.6 729.6 L757 725" stroke-width="1.1" stroke="#222"/>
<path d="M740.6 731.5 L756.7 727" stroke-width="1.1" stroke="#222"/>
<path d="M740.6 733.4 L756.4 728.9" stroke-width="1.1" stroke="#222"/>
<path d="M740.6 735.3 L756.1 730.9" stroke-width="1.1" stroke="#222"/>
<path d="M740.6 737.2 L755.8 732.8" stroke-width="1.1" stroke="#222"/>
<path d="M740.6 739.1 L755.5 734.8" stroke-width="1.1" stroke="#222"/>
</g>
</svg>
</body></html>
